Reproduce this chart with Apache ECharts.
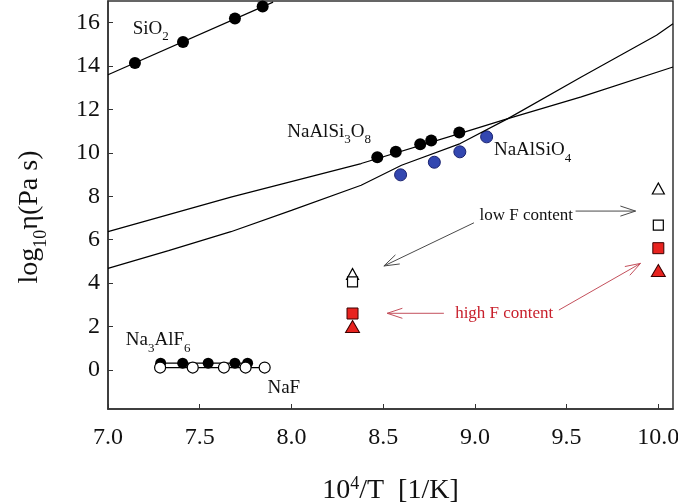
<!DOCTYPE html>
<html>
<head>
<meta charset="utf-8">
<script src="https://cdn.jsdelivr.net/npm/echarts@6/dist/echarts.min.js"></script>
<style>
  html, body { margin: 0; padding: 0; background: #fff; }
  #chart { width: 678px; height: 504px; }
</style>
</head>
<body>
<div id="chart"></div>
<script>
// Axis ticks
const xTicks = [7.0, 7.5, 8.0, 8.5, 9.0, 9.5, 10.0];
const yTicks = [0, 2, 4, 6, 8, 10, 12, 14, 16];

// SiO2 melt: measurements and Arrhenian fit
const sio2X = [7.147, 7.409, 7.692, 7.843];
const sio2Y = [14.14, 15.11, 16.19, 16.75];
const sio2FitX = [7.0, 7.9];
const sio2FitY = [13.6, 16.95];

// NaAlSi3O8 melt
const albiteX = [8.468, 8.569, 8.702, 8.762, 8.915];
const albiteY = [9.80, 10.05, 10.40, 10.57, 10.94];
const albiteFitX = [7.0, 7.67, 8.38, 8.92, 9.18, 9.58, 10.08];
const albiteFitY = [6.37, 7.96, 9.51, 10.9, 11.58, 12.58, 13.96];

// NaAlSiO4 melt
const nephX = [8.595, 8.779, 8.918, 9.064];
const nephY = [8.99, 9.57, 10.05, 10.74];
const nephFitX = [7.0, 7.33, 7.67, 8.0, 8.38, 8.6, 8.92, 9.18, 9.58, 9.99, 10.08];
const nephFitY = [4.68, 5.5, 6.37, 7.35, 8.51, 9.43, 10.43, 11.58, 13.5, 15.42, 15.95];

// Fluoride melts
const cryoX = [7.287, 7.407, 7.546, 7.692, 7.761];
const cryoY = [0.31, 0.31, 0.31, 0.31, 0.31];
const nafX = [7.284, 7.462, 7.632, 7.750, 7.854];
const nafY = [0.11, 0.11, 0.11, 0.11, 0.11];

// F-bearing melts (1200 K and 1000 K)
const fX = [8.333, 10.0];
const lowFTriY = [4.42, 8.36];
const lowFSqY = [4.06, 6.67];
const highFSqY = [2.6, 5.61];
const highFTriY = [2.0, 4.58];

// Annotation text anchors (data units) and arrows [x1, y1, x2, y2]
const noteText = ['{m|SiO}{s|2}', '{m|NaAlSi}{s|3}{m|O}{s|8}', '{m|NaAlSiO}{s|4}',
                  '{m|Na}{s|3}{m|AlF}{s|6}', '{m|NaF}', '{k|low F content}', '{r|high F content}'];
const noteX = [7.135, 7.977, 9.104, 7.097, 7.869, 9.28, 9.16];
const noteY = [15.65, 10.91, 10.05, 1.30, -0.92, 7.13, 2.58];
const noteAlign = ['left', 'left', 'left', 'left', 'left', 'center', 'center'];
const blackArrows = [[9.549, 7.32, 9.876, 7.32], [8.995, 6.78, 8.504, 4.79]];
const redArrows = [[8.831, 2.61, 8.522, 2.61], [9.458, 2.76, 9.903, 4.91]];

const zip = (xs, ys) => xs.map((x, i) => [x, ys[i]]);
const SERIF = 'Liberation Serif';

function arrowRenderer(color) {
  return function (params, api) {
    const p1 = api.coord([api.value(0), api.value(1)]);
    const p2 = api.coord([api.value(2), api.value(3)]);
    const ang = Math.atan2(p2[1] - p1[1], p2[0] - p1[0]);
    const len = 16, spread = 0.32;
    const h1 = [p2[0] - len * Math.cos(ang - spread), p2[1] - len * Math.sin(ang - spread)];
    const h2 = [p2[0] - len * Math.cos(ang + spread), p2[1] - len * Math.sin(ang + spread)];
    const st = { stroke: color, lineWidth: 1, fill: null };
    return {
      type: 'group',
      children: [
        { type: 'line', shape: { x1: p1[0], y1: p1[1], x2: p2[0], y2: p2[1] }, style: st },
        { type: 'polyline', shape: { points: [h1, p2, h2] }, style: st }
      ]
    };
  };
}

// zrender rich styles for the in-plot notes
const richStyles = {
  m: { fontFamily: SERIF, fontSize: 19, lineHeight: 22, verticalAlign: 'top', fill: '#111' },
  s: { fontFamily: SERIF, fontSize: 13, lineHeight: 13, padding: [11, 0, 0, 0], verticalAlign: 'top', fill: '#111' },
  k: { fontFamily: SERIF, fontSize: 17, fill: '#111' },
  r: { fontFamily: SERIF, fontSize: 17, fill: '#c8202c' }
};

const chart = echarts.init(document.getElementById('chart'), null, { renderer: 'canvas' });

const option = {
  backgroundColor: '#fff',
  animation: false,
  grid: {
    left: 108, right: 5, top: 1, bottom: 95,
    show: true, borderColor: '#333', borderWidth: 1.5,
    outerBoundsMode: 'none'
  },
  xAxis: {
    type: 'value', min: 7.0, max: 10.08,
    axisLine: { onZero: false, lineStyle: { color: '#333', width: 1.5 } },
    axisTick: { inside: true, length: 5, customValues: xTicks, lineStyle: { color: '#333' } },
    axisLabel: {
      customValues: xTicks, formatter: v => v.toFixed(1),
      fontFamily: SERIF, fontSize: 24, color: '#111', margin: 17
    },
    splitLine: { show: false },
    name: '{t|10}{u|4}{t|/T  [1/K]}',
    nameLocation: 'middle', nameGap: 68,
    nameTextStyle: {
      rich: {
        t: { fontFamily: SERIF, fontSize: 28, lineHeight: 28, verticalAlign: 'bottom', color: '#111' },
        u: { fontFamily: SERIF, fontSize: 18, lineHeight: 18, padding: [0, 0, 12, 0], verticalAlign: 'bottom', color: '#111' }
      }
    }
  },
  yAxis: {
    type: 'value', min: -1.8, max: 17,
    axisLine: { onZero: false, lineStyle: { color: '#333', width: 1.5 } },
    axisTick: { inside: true, length: 5, customValues: yTicks, lineStyle: { color: '#333' } },
    axisLabel: {
      customValues: yTicks,
      fontFamily: SERIF, fontSize: 24, color: '#111', margin: 8
    },
    splitLine: { show: false },
    name: '{t|log}{d|10}{t|η(Pa s)}',
    nameLocation: 'middle', nameGap: 62, nameRotate: 90,
    nameTextStyle: {
      padding: [0, 24, 0, 0],
      rich: {
        t: { fontFamily: SERIF, fontSize: 28, lineHeight: 30, verticalAlign: 'top', color: '#111' },
        d: { fontFamily: SERIF, fontSize: 18, lineHeight: 18, padding: [16, 0, 0, 0], verticalAlign: 'top', color: '#111' }
      }
    }
  },
  series: [
    { name: 'SiO2 fit', type: 'line', data: zip(sio2FitX, sio2FitY), showSymbol: false,
      lineStyle: { color: '#000', width: 1.2 }, clip: true, silent: true },
    { name: 'SiO2', type: 'scatter', data: zip(sio2X, sio2Y), symbolSize: 12,
      itemStyle: { color: '#000', opacity: 1 } },
    { name: 'NaAlSi3O8 fit', type: 'line', data: zip(albiteFitX, albiteFitY), showSymbol: false,
      lineStyle: { color: '#000', width: 1.2 }, clip: true },
    { name: 'NaAlSiO4 fit', type: 'line', data: zip(nephFitX, nephFitY), showSymbol: false,
      lineStyle: { color: '#000', width: 1.2 }, clip: true },
    { name: 'NaAlSi3O8', type: 'scatter', data: zip(albiteX, albiteY), symbolSize: 12,
      itemStyle: { color: '#000', opacity: 1 } },
    { name: 'NaAlSiO4', type: 'scatter', data: zip(nephX, nephY), symbolSize: 12,
      itemStyle: { color: '#3347b0', borderColor: '#1b2370', borderWidth: 1, opacity: 1 } },
    { name: 'Na3AlF6', type: 'line', data: zip(cryoX, cryoY), symbol: 'circle', symbolSize: 11,
      lineStyle: { color: '#000', width: 1.2 }, itemStyle: { color: '#000' } },
    { name: 'NaF', type: 'line', data: zip(nafX, nafY), symbol: 'circle', symbolSize: 11,
      lineStyle: { color: '#000', width: 1.2 },
      itemStyle: { color: '#fff', borderColor: '#000', borderWidth: 1.2 } },
    { name: 'low F (triangle)', type: 'scatter', data: zip(fX, lowFTriY), symbol: 'triangle', symbolSize: [12, 11],
      itemStyle: { color: '#fff', borderColor: '#000', borderWidth: 1.2, opacity: 1 } },
    { name: 'low F (square)', type: 'scatter', data: zip(fX, lowFSqY), symbol: 'rect', symbolSize: [10, 10],
      itemStyle: { color: '#fff', borderColor: '#000', borderWidth: 1.2, opacity: 1 } },
    { name: 'high F (square)', type: 'scatter', data: zip(fX, highFSqY), symbol: 'rect', symbolSize: [11, 11],
      itemStyle: { color: '#e8231f', borderColor: '#3a0000', borderWidth: 1, opacity: 1 } },
    { name: 'high F (triangle)', type: 'scatter', data: zip(fX, highFTriY), symbol: 'triangle', symbolSize: [14, 12],
      itemStyle: { color: '#e8231f', borderColor: '#3a0000', borderWidth: 1, opacity: 1 } },
    { name: 'low F arrows', type: 'custom', data: blackArrows, renderItem: arrowRenderer('#4a4a4a'), silent: true },
    { name: 'high F arrows', type: 'custom', data: redArrows, renderItem: arrowRenderer('#c4505c'), silent: true },
    { name: 'notes', type: 'custom', data: zip(noteX, noteY), silent: true,
      renderItem: function (params, api) {
        const p = api.coord([api.value(0), api.value(1)]);
        return {
          type: 'text', x: p[0], y: p[1],
          style: {
            text: noteText[params.dataIndex], rich: richStyles,
            align: noteAlign[params.dataIndex], verticalAlign: 'middle'
          }
        };
      } }
  ]
};

chart.setOption(option);
</script>
</body>
</html>
